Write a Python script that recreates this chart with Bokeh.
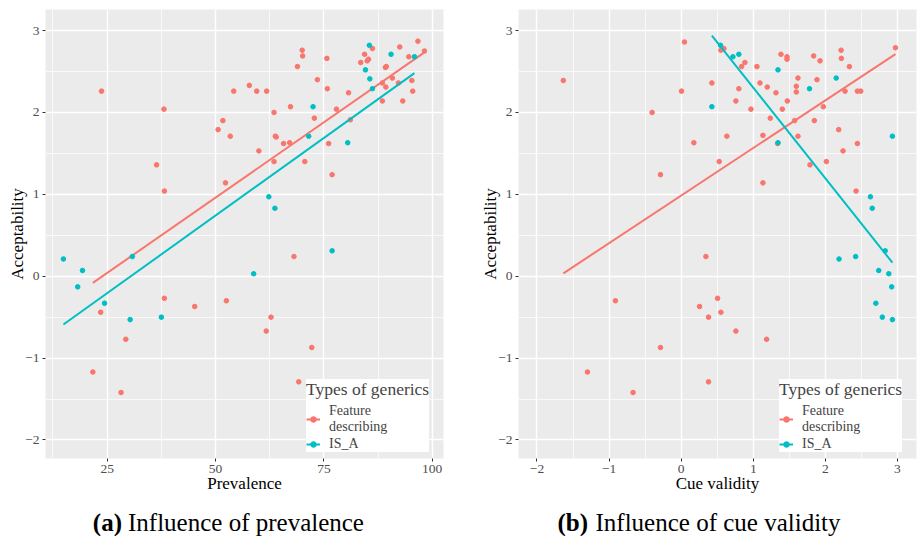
import numpy as np
from bokeh.plotting import figure
from bokeh.models import FixedTicker, Legend, LegendItem, Range1d, CustomJSTickFormatter, Label
from bokeh.layouts import row, column
from bokeh.embed import file_html
from bokeh.resources import INLINE

# ---------------- data ----------------
# Panel (a): prevalence vs acceptability
prev_fd_x = [21.7, 23.5, 23.7, 28.2, 29.3, 36.4, 38.1, 38.2, 38.2, 45.2,
             50.6, 51.7, 52.3, 52.5, 53.4, 54.2, 57.8, 59.5, 60.0, 61.7,
             61.8, 62.8, 63.5, 63.5, 63.8, 64.0, 65.7, 67.1, 67.3, 68.1,
             68.9, 69.2, 70.0, 70.1, 70.6, 72.2, 72.8, 73.5, 75.7, 75.8,
             76.1, 76.9, 77.9, 80.7, 81.1, 83.5, 84.4, 85.0, 85.3, 86.2,
             88.5, 88.5, 89.3, 89.2, 89.4, 90.8, 92.2, 92.5, 93.2, 94.6,
             95.3, 95.5, 96.7, 98.2]
prev_fd_y = [-1.17, -0.44, 2.26, -1.42, -0.77, 1.36, 2.04, 1.04, -0.27, -0.37,
             1.79, 1.90, 1.14, -0.30, 1.71, 2.26, 2.33, 2.26, 1.53, -0.67,
             2.26, -0.50, 2.00, 1.40, 1.71, 1.70, 1.62, 1.63, 2.07, 0.24,
             2.56, -1.29, 2.76, 2.69, 1.40, -0.87, 1.93, 2.40, 2.66, 2.29,
             1.62, 1.24, 2.04, 2.24, 1.91, 2.61, 2.71, 2.63, 2.65, 2.78,
             2.14, 2.36, 2.31, 2.55, 2.56, 2.42, 2.36, 2.80, 2.14, 2.68,
             2.39, 2.26, 2.87, 2.75]
prev_isa_x = [14.9, 18.2, 19.3, 24.4, 30.3, 30.8, 37.5, 58.8, 62.3, 63.7,
              71.5, 72.5, 76.9, 80.5, 84.6, 85.5, 85.6, 86.2, 90.5, 95.9]
prev_isa_y = [0.21, -0.13, 0.07, -0.33, -0.53, 0.24, -0.50, 0.03, 0.97, 0.83,
              1.71, 2.07, 0.31, 1.63, 2.52, 2.82, 2.41, 2.29, 2.71, 2.68]

# Panel (b): cue validity vs acceptability
cue_fd_x = [-1.634, -0.403, -0.287, 0.005, 0.046, 0.176, 0.343, 0.426, 0.528, 0.551,
            0.593, 0.634, 0.759, 0.800, 0.838, 0.884, 0.968, 1.051, 1.093, 1.134,
            1.134, 1.194, 1.236, 1.315, 1.338, 1.384, 1.403, 1.468, 1.468, 1.472,
            1.574, 1.597, 1.597, 1.620, 1.620, 1.787, 1.838, 1.847, 1.884, 1.926,
            1.972, 2.014, 2.185, 2.218, 2.222, 2.245, 2.273, 2.333, 2.426, 2.444,
            2.444, 2.491, 2.972, -0.912, -1.300, -0.667, -0.287, 0.255, 0.380, 0.505,
            0.551, 0.759, 1.185, 0.380]
cue_fd_y = [2.39, 2.00, 1.24, 2.26, 2.86, 1.63, 0.24, 2.36, 1.40, 2.76,
            2.78, 1.71, 2.14, 2.29, 2.56, 2.61, 2.04, 2.56, 2.36, 1.14,
            1.72, 2.31, 1.93, 2.24, 1.62, 2.71, 2.04, 2.68, 2.65, 2.14,
            1.90, 2.32, 2.25, 2.42, 1.71, 1.36, 2.69, 1.90, 2.40, 2.63,
            2.07, 1.40, 1.79, 2.76, 2.66, 1.53, 2.26, 2.56, 1.04, 1.62,
            2.26, 2.26, 2.79, -0.30, -1.17, -1.42, -0.87, -0.37, -0.50, -0.27,
            -0.44, -0.67, -0.77, -1.29]
cue_isa_x = [0.426, 0.546, 0.718, 0.800, 1.343, 1.343, 1.780, 2.150, 2.190, 2.420,
             2.625, 2.650, 2.700, 2.740, 2.790, 2.830, 2.880, 2.920, 2.930, 2.930]
cue_isa_y = [2.07, 2.82, 2.68, 2.71, 2.52, 1.63, 2.29, 2.42, 0.21, 0.24,
             0.97, 0.83, -0.33, 0.07, -0.50, 0.31, 0.03, -0.13, 1.71, -0.53]

series_labels = ["Feature\ndescribing", "IS_A"]
legend_title = "Types of generics"
x_labels = ["Prevalence", "Cue validity"]
y_label = "Acceptability"
captions = ["Influence of prevalence", "Influence of cue validity"]
caption_tags = ["(a)", "(b)"]

prev_xticks = [25, 50, 75, 100]
prev_xminor = [12.5, 37.5, 62.5, 87.5]
cue_xticks = [-2, -1, 0, 1, 2, 3]
cue_xminor = [-1.5, -0.5, 0.5, 1.5, 2.5]
y_ticks = [-2, -1, 0, 1, 2, 3]
y_minor = [-1.5, -0.5, 0.5, 1.5, 2.5]

# ---------------- style ----------------
RED = "#F8766D"
TEAL = "#00BFC4"
FONT = "Liberation Serif"
minus_fmt = CustomJSTickFormatter(code="return String(tick).replace('-', '\u2212');")


def fit_line(xs, ys):
    xs = np.asarray(xs, dtype=float)
    ys = np.asarray(ys, dtype=float)
    b, a = np.polyfit(xs, ys, 1)
    x0, x1 = xs.min(), xs.max()
    return [x0, x1], [a + b * x0, a + b * x1]


def make_panel(fd_x, fd_y, isa_x, isa_y, xr, xticks, xminor, xlabel,
               width, border_left, border_right, legend_loc):
    p = figure(width=width, height=495, output_backend="svg", toolbar_location=None,
               x_range=Range1d(*xr), y_range=Range1d(-2.226, 3.257),
               min_border_left=border_left, min_border_right=border_right,
               min_border_top=9, min_border_bottom=37)
    p.background_fill_color = "#EBEBEB"
    p.border_fill_color = "white"
    p.outline_line_color = None

    for ax, ticks, minor in ((p.xaxis[0], xticks, xminor), (p.yaxis[0], y_ticks, y_minor)):
        ax.ticker = FixedTicker(ticks=ticks, minor_ticks=minor)
        ax.formatter = minus_fmt
        ax.axis_line_color = None
        ax.major_tick_line_color = "#333333"
        ax.major_tick_in = 0
        ax.major_tick_out = 3
        ax.minor_tick_line_color = None
        ax.major_label_text_font = FONT
        ax.major_label_text_font_size = "13.5px"
        ax.major_label_text_color = "#4D4D4D"
        ax.axis_label_text_font = FONT
        ax.axis_label_text_font_size = "17px"
        ax.axis_label_text_font_style = "normal"
        ax.axis_label_text_color = "black"
    p.xaxis[0].major_label_standoff = 2
    p.yaxis[0].major_label_standoff = 2
    p.xaxis[0].axis_label_standoff = -2
    p.yaxis[0].axis_label_standoff = -5
    p.xaxis[0].axis_label = xlabel
    p.yaxis[0].axis_label = y_label

    for g in (p.xgrid[0], p.ygrid[0]):
        g.grid_line_color = "white"
        g.grid_line_width = 1.4
        g.minor_grid_line_color = "white"
        g.minor_grid_line_width = 0.7

    lx, ly = fit_line(fd_x, fd_y)
    l_fd = p.line(lx, ly, line_color=RED, line_width=2)
    s_fd = p.scatter(fd_x, fd_y, size=4.6, color=RED)
    lx, ly = fit_line(isa_x, isa_y)
    l_isa = p.line(lx, ly, line_color=TEAL, line_width=2)
    s_isa = p.scatter(isa_x, isa_y, size=4.6, color=TEAL)

    legend = Legend(items=[LegendItem(label=series_labels[0], renderers=[l_fd, s_fd]),
                           LegendItem(label=series_labels[1], renderers=[l_isa, s_isa])],
                    location=legend_loc, title=legend_title)
    legend.title_text_font = FONT
    legend.title_text_font_size = "17.5px"
    legend.title_text_font_style = "normal"
    legend.title_standoff = 3
    legend.label_text_font = FONT
    legend.label_text_font_size = "14px"
    legend.label_text_line_height = 0.95
    legend.glyph_width = 14
    legend.glyph_height = 14
    legend.label_standoff = 9
    legend.padding = 5
    legend.spacing = 1
    legend.margin = 0
    legend.background_fill_color = "white"
    legend.background_fill_alpha = 1
    legend.border_line_color = None
    p.add_layout(legend)
    return p


p1 = make_panel(prev_fd_x, prev_fd_y, prev_isa_x, prev_isa_y, (10.77, 102.6),
                prev_xticks, prev_xminor, x_labels[0], 460, 45, 17, (261, 6))
p2 = make_panel(cue_fd_x, cue_fd_y, cue_isa_x, cue_isa_y, (-2.256, 3.264),
                cue_xticks, cue_xminor, x_labels[1], 457, 58, 1, (261, 6))

# caption strip (pixel coordinates: x_range/y_range equal to the strip size)
cap = figure(width=917, height=41, output_backend="svg", toolbar_location=None,
             x_range=Range1d(0, 917), y_range=Range1d(0, 41),
             x_axis_type=None, y_axis_type=None, min_border=0)
cap.outline_line_color = None
cap.grid.visible = False
cap_positions = [(121.5, 127.5), (587.5, 595.0)]
for tag, text, (xt, xc) in zip(caption_tags, captions, cap_positions):
    cap.add_layout(Label(x=xt, y=14, text=tag, text_align="right", text_baseline="alphabetic",
                         text_font=FONT, text_font_size="25px", text_font_style="bold",
                         text_color="black"))
    cap.add_layout(Label(x=xc, y=14, text=text, text_align="left", text_baseline="alphabetic",
                         text_font=FONT, text_font_size="25px", text_font_style="normal",
                         text_color="black"))

layout = column(row(p1, p2), cap)
open("out.html", "w").write(file_html(layout, INLINE))
